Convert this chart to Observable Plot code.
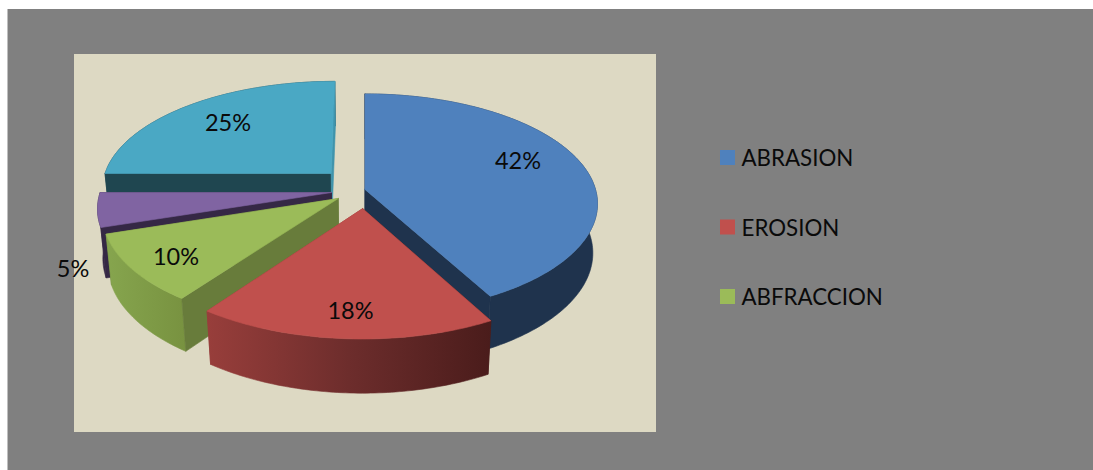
<!DOCTYPE html>
<html>
<head>
<meta charset="utf-8">
<title>ABRASION, EROSION, ABFRACCION</title>
<script src="https://cdn.jsdelivr.net/npm/d3@7"></script>
<script src="https://cdn.jsdelivr.net/npm/@observablehq/plot@0.6"></script>
<style>
  html, body { margin: 0; padding: 0; background: #fff; overflow: hidden; }
  svg { display: block; }
</style>
</head>
<body>
<div id="chart"></div>
<script>
// Share of each lesion type, in percent, clockwise from twelve o'clock.
const values = [42, 18, 10, 5, 25];
const legendLabels = ["ABRASION", "EROSION", "ABFRACCION"];

// Slice colours: top face, outer wall, first radial face, last radial face.
const topColors = ["#4f81bd", "#c0504d", "#9bbb59", "#8064a2", "#4aa8c4"];
const wallColors = ["#1f334d", "url(#wallRed)", "url(#wallGreen)", "#352845", "#1f4650"];
const startFaceColors = ["#1f334d", "#4a1c1b", "#687c3b", "#352845", "#1f4650"];
const endFaceColors = ["#1f334d", "#953d3a", "#687c3b", "#352845", "#3f94ac"];
// Which radial faces turn towards the viewer and so sit in front of the curved wall.
const startFaceInFront = [false, false, true, true, true];
const endFaceInFront = [true, false, false, false, true];

// How far each slice is pulled out of the pie, in pie radii (right, away from viewer).
const offsetX = [0, -0.01, -0.115, -0.145, -0.15];
const offsetY = [0, -0.173, -0.083, -0.028, 0.151];

// Percentage label anchors on the page.
const labelX = [517.5, 350, 175.5, 72.5, 227.5];
const labelY = [161, 311, 257, 269, 123];

// Camera for the tilted, slightly foreshortened disc.
const centerX = 364.5, centerY = 189;
const radiusX = 230.5, radiusY = 108, thickness = 50;
const depthPerspective = 0.13, thicknessPerspective = 0.02;

// Project ground coordinates (X right, Y away, z 0 on top and 1 at the base).
function project(X, Y, z) {
  const w = 1 + depthPerspective * Y + thicknessPerspective * z;
  return {x: centerX + radiusX * X / w, y: centerY - radiusY * Y / w + thickness * z / w};
}

// Rim point of slice i at angle a (radians clockwise from the top).
const rimPoint = (i, a, z) => project(offsetX[i] + Math.sin(a), offsetY[i] + Math.cos(a), z);
const apexPoint = (i, z) => project(offsetX[i], offsetY[i], z);

const total = d3.sum(values);
const cumulative = d3.cumsum(values);
const startAngle = values.map((_, i) => (i ? cumulative[i - 1] : 0) / total * 2 * Math.PI);
const endAngle = values.map((_, i) => cumulative[i] / total * 2 * Math.PI);

function rimArc(i, z) {
  const steps = Math.max(8, Math.round(values[i] * 4));
  return d3.range(steps + 1).map((k) =>
    rimPoint(i, startAngle[i] + (endAngle[i] - startAngle[i]) * k / steps, z));
}

const topFace = (i) => [apexPoint(i, 0), ...rimArc(i, 0), apexPoint(i, 0)];
const outerWall = (i) => [...rimArc(i, 0), ...rimArc(i, 1).reverse()];
const radialFace = (i, a) => [apexPoint(i, 0), rimPoint(i, a, 0), rimPoint(i, a, 1), apexPoint(i, 1)];

const polygon = (points, color) =>
  Plot.line([...points, points[0]], {
    x: "x", y: "y", fill: color, stroke: color, strokeWidth: 0.6, curve: "linear"
  });

// Slices are painted far to near so the closer ones overlap the others.
const paintOrder = [0, 4, 3, 2, 1];
const sliceMarks = paintOrder.flatMap((i) => {
  const startFace = polygon(radialFace(i, startAngle[i]), startFaceColors[i]);
  const endFace = polygon(radialFace(i, endAngle[i]), endFaceColors[i]);
  const wall = polygon(outerWall(i), wallColors[i]);
  const behind = [startFaceInFront[i] ? null : startFace, endFaceInFront[i] ? null : endFace];
  const inFront = [startFaceInFront[i] ? startFace : null, endFaceInFront[i] ? endFace : null];
  return [...behind, wall, ...inFront, polygon(topFace(i), topColors[i])].filter(Boolean);
});

// Horizontal shading of the curved walls.
function wallGradients() {
  const defs = d3.create("svg:defs");
  const addGradient = (id, stops) => {
    const g = defs.append("linearGradient").attr("id", id);
    stops.forEach(([offset, color]) =>
      g.append("stop").attr("offset", offset).attr("stop-color", color));
  };
  addGradient("wallRed", [["0%", "#983e3b"], ["50%", "#6d2d2c"], ["100%", "#4a1c1b"]]);
  addGradient("wallGreen", [["0%", "#86a54e"], ["100%", "#789240"]]);
  return defs.node();
}

const legendRows = legendLabels.map((label, i) => ({
  label, color: topColors[i], y: 157.5 + 69.5 * i
}));
const labels = values.map((v, i) => ({text: `${v}%`, x: labelX[i], y: labelY[i]}));

const chart = Plot.plot({
  width: 1093,
  height: 470,
  margin: 0,
  x: {domain: [0, 1093], range: [0, 1093], axis: null},
  y: {domain: [0, 470], range: [0, 470], axis: null},
  style: {background: "#ffffff", fontFamily: "Lato, Carlito, sans-serif"},
  marks: [
    wallGradients,
    // Outer grey chart area and the beige plot area.
    Plot.rect([{x1: 7.5, x2: 1093, y1: 9, y2: 470}], {x1: "x1", x2: "x2", y1: "y1", y2: "y2", fill: "#808080"}),
    Plot.rect([{x1: 74, x2: 656, y1: 54, y2: 432}], {x1: "x1", x2: "x2", y1: "y1", y2: "y2", fill: "#ddd9c3"}),
    ...sliceMarks,
    Plot.text(labels, {x: "x", y: "y", text: "text", fontSize: 23.5, fill: "#0a0a0a", textAnchor: "middle"}),
    // Legend
    Plot.rect(legendRows, {
      x1: () => 720, x2: () => 735,
      y1: (d) => d.y - 7.5, y2: (d) => d.y + 7.5,
      fill: "color"
    }),
    Plot.text(legendRows, {
      x: () => 741, y: (d) => d.y + 1, text: "label", fontSize: 22.3, fill: "#0a0a0a", textAnchor: "start"
    })
  ]
});
document.getElementById("chart").append(chart);
</script>
</body>
</html>
